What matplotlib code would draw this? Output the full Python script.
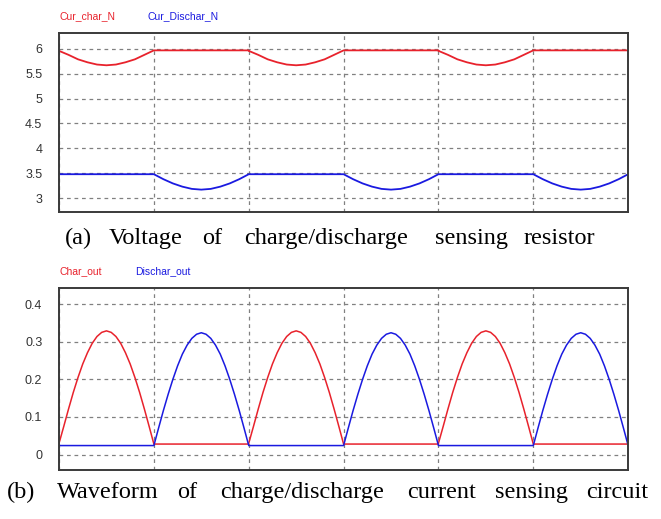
#!/usr/bin/env python3

import numpy as np
import matplotlib
matplotlib.use("Agg")
import matplotlib.pyplot as plt

# time axis in half periods (6 grid divisions)
half_periods = [0, 1, 2, 3, 4, 5, 6]

# (a) sensing resistor voltage, one dip per half period read at 0.1 steps
cur_char_dip = [5.96, 5.88, 5.79, 5.73, 5.685, 5.67,
                5.685, 5.73, 5.79, 5.88, 5.97]
cur_char_flat = 5.97
cur_dischar_dip = [3.48, 3.38, 3.295, 3.23, 3.185, 3.17,
                   3.185, 3.23, 3.295, 3.38, 3.48]
cur_dischar_flat = 3.48

# (b) sensing circuit outputs, one arc per half period read at 0.05 steps
char_arc = [0.030, 0.075, 0.121, 0.165, 0.205, 0.241, 0.271, 0.296,
            0.314, 0.325, 0.329, 0.325, 0.314, 0.296, 0.271, 0.241,
            0.205, 0.165, 0.121, 0.075, 0.028]
char_flat = 0.028
dischar_arc = [0.024, 0.071, 0.117, 0.160, 0.200, 0.236, 0.267, 0.291,
               0.309, 0.320, 0.324, 0.320, 0.309, 0.291, 0.267, 0.236,
               0.200, 0.160, 0.117, 0.071, 0.024]
dischar_flat = 0.024

# which half periods are "active" for each trace
char_active = [0, 2, 4]
dischar_active = [1, 3, 5]

yticks_a = [3, 3.5, 4, 4.5, 5, 5.5, 6]
ytick_labels_a = ["3", "3.5", "4", "4.5", "5", "5.5", "6"]
yticks_b = [0, 0.1, 0.2, 0.3, 0.4]
ytick_labels_b = ["0", "0.1", "0.2", "0.3", "0.4"]

# justified captions: words and their centre x in pixels
caption_a_words = ["(a)", "Voltage", "of", "charge/discharge",
                   "sensing", "resistor"]
caption_a_x = [78, 146, 212, 326, 471, 559]
caption_b_words = ["(b)", "Waveform", "of", "charge/discharge",
                   "current", "sensing", "circuit"]
caption_b_x = [21, 108, 187, 302, 442, 532, 617]

RED = "#e8222c"
BLUE = "#1a1ae0"
W, H = 661, 519


def build_trace(shape, flat, active):
    """Chain the read shape on active half periods, flat level elsewhere."""
    xs, ys = [], []
    n = len(shape)
    for k in range(6):
        if k in active:
            xs.extend(np.linspace(k, k + 1, n))
            ys.extend(shape)
        else:
            xs.extend([k, k + 1])
            ys.extend([flat, flat])
    return xs, ys


def style_axes(ax, yticks, ylabels, ylim):
    ax.set_xlim(half_periods[0], half_periods[-1])
    ax.set_ylim(*ylim)
    ax.set_xticks(half_periods)
    ax.set_xticklabels([])
    ax.set_yticks(yticks)
    ax.set_yticklabels(ylabels, fontsize=9, family="Liberation Sans",
                       color="#333333")
    ax.tick_params(length=0, pad=12)
    ax.grid(True, color="#808080", linestyle=(0, (3, 3)), linewidth=0.9)
    for sp in ax.spines.values():
        sp.set_color("#3a3a3a")
        sp.set_linewidth(1.4)


def caption(fig, words, xs, baseline):
    for word, xc in zip(words, xs):
        fig.text(xc / W, 1 - baseline / H, word, ha="center", va="baseline",
                 fontsize=17.5, family="Liberation Serif")


fig = plt.figure(figsize=(6.61, 5.19), dpi=100)

ax1 = fig.add_axes([0.0893, 0.5915, 0.861, 0.345])
x, y = build_trace(cur_char_dip, cur_char_flat, char_active)
ax1.plot(x, y, color=RED, linewidth=1.3)
x, y = build_trace(cur_dischar_dip, cur_dischar_flat, dischar_active)
ax1.plot(x, y, color=BLUE, linewidth=1.3)
style_axes(ax1, yticks_a, ytick_labels_a, (2.72, 6.32))

ax2 = fig.add_axes([0.0893, 0.0944, 0.861, 0.3507])
x, y = build_trace(char_arc, char_flat, char_active)
ax2.plot(x, y, color=RED, linewidth=1.1)
x, y = build_trace(dischar_arc, dischar_flat, dischar_active)
ax2.plot(x, y, color=BLUE, linewidth=1.1)
style_axes(ax2, yticks_b, ytick_labels_b, (-0.041, 0.443))

# legend-like labels above each panel
fig.text(59 / W, 1 - 16 / H, "Cur_char_N", color=RED, fontsize=7.5,
         family="Liberation Sans", va="center")
fig.text(148 / W, 1 - 16 / H, "Cur_Dischar_N", color=BLUE, fontsize=7.5,
         family="Liberation Sans", va="center")
fig.text(59 / W, 1 - 271 / H, "Char_out", color=RED, fontsize=7.5,
         family="Liberation Sans", va="center")
fig.text(135 / W, 1 - 271 / H, "Dischar_out", color=BLUE, fontsize=7.5,
         family="Liberation Sans", va="center")

# captions
caption(fig, caption_a_words, caption_a_x, 244)
caption(fig, caption_b_words, caption_b_x, 498)

fig.savefig("out.png", dpi=100)
